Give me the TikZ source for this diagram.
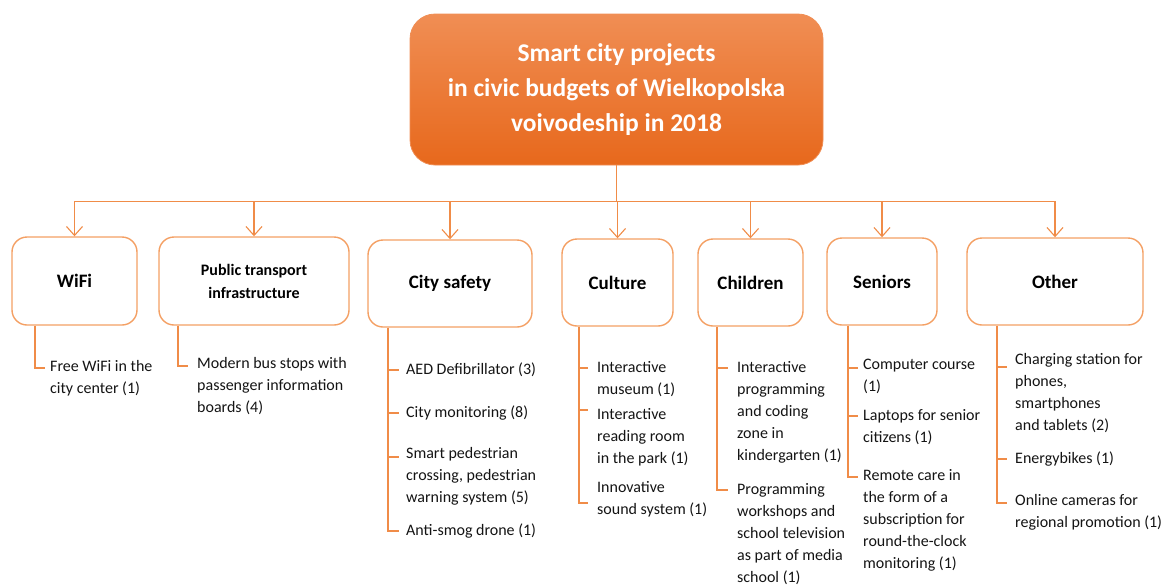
\documentclass[tikz,border=0pt]{standalone}
\usepackage{fontspec}
\setmainfont{Carlito}
\usetikzlibrary{arrows.meta,calc}
\definecolor{boxline}{RGB}{244,160,100}
\definecolor{conn}{RGB}{240,140,72}
\definecolor{toptop}{RGB}{240,142,84}
\definecolor{topbot}{RGB}{231,104,28}
\definecolor{itemtext}{RGB}{20,20,20}
\begin{document}
\begin{tikzpicture}[x=1pt,y=-1pt,
  topbox/.style={rounded corners=25pt, top color=toptop, bottom color=topbot, draw=toptop, line width=0.8pt,
    minimum width=413pt, minimum height=151pt, inner sep=0pt, align=center, text=white,
    font=\fontsize{25.5}{35}\selectfont\bfseries},
  catbox/.style={draw=boxline, line width=1.4pt, rounded corners=15pt, fill=white, inner sep=0pt,
    align=center, font=\fontsize{19}{23}\selectfont\bfseries},
  item/.style={anchor=north west, inner sep=0pt, align=left, font=\fontsize{16}{22}\selectfont, text=itemtext},
  link/.style={draw=conn, line width=1.2pt},
  arr/.style={link, -{Straight Barb[length=9pt,width=16pt,line width=1.1pt]}}
]
\useasboundingbox (0,0) rectangle (1169,584);

% title
\node[topbox] (top) at (616.5,89.5) {Smart city projects\\in civic budgets of Wielkopolska\\voivodeship in 2018};

% categories
\node[catbox, minimum width=125pt, minimum height=88pt] (wifi) at (74.5,281) {WiFi};
\node[catbox, minimum width=190pt, minimum height=88pt, font=\fontsize{16}{23}\selectfont\bfseries] (pt) at (254,281) {Public transport\\infrastructure};
\node[catbox, minimum width=164pt, minimum height=87pt] (cs) at (450,283.5) {City safety};
\node[catbox, minimum width=111pt, minimum height=87pt] (cu) at (617.5,282.5) {Culture};
\node[catbox, minimum width=105pt, minimum height=87pt] (ch) at (750.5,282.5) {Children};
\node[catbox, minimum width=110pt, minimum height=87pt] (se) at (882,281.5) {Seniors};
\node[catbox, minimum width=176pt, minimum height=87pt] (ot) at (1055,281.5) {Other};

% bus
\draw[link] (top.south) -- ++(0,36) coordinate (bus);
\foreach \n in {wifi,pt,cs,cu,ch,se,ot}
  \draw[arr] (bus) -| (\n.north);

% WiFi list
\coordinate (w1) at (35,368);
\draw[link] (wifi.south -| w1) -- (w1) -- ++(10,0);
\node[item] (wt1) at (50,360) {Free WiFi in the\\city center (1)};

% Public transport list
\coordinate (p1) at (178,366);
\draw[link] (pt.south -| p1) -- (p1) -- ++(10,0);
\node[item] (pt1) at (197,357) {Modern bus stops with\\passenger information\\boards (4)};

% City safety list
\coordinate (c1) at (388,370);
\coordinate (c2) at (388,413);
\coordinate (c3) at (388,457);
\coordinate (c4) at (388,531);
\draw[link] (cs.south -| c4) -- (c4) -- ++(11,0);
\foreach \c in {c1,c2,c3} \draw[link] (\c) -- ++(11,0);
\node[item] (cs1) at (406,363) {AED Defibrillator (3)};
\node[item] (cs2) at (406,406) {City monitoring (8)};
\node[item] (cs3) at (406,447) {Smart pedestrian\\crossing, pedestrian\\warning system (5)};
\node[item] (cs4) at (406,524) {Anti-smog drone (1)};

% Culture list
\coordinate (u1) at (579,368);
\coordinate (u2) at (579,410);
\coordinate (u3) at (579,503);
\draw[link] (cu.south -| u3) -- (u3) -- ++(9,0);
\foreach \c in {u1,u2} \draw[link] (\c) -- ++(9,0);
\node[item] (cu1) at (597,361) {Interactive\\museum (1)};
\node[item] (cu2) at (597,408) {Interactive\\reading room\\in the park (1)};
\node[item] (cu3) at (597,481) {Innovative\\sound system (1)};

% Children list
\coordinate (h1) at (717,368);
\coordinate (h2) at (717,490);
\draw[link] (ch.south -| h2) -- (h2) -- ++(11,0);
\draw[link] (h1) -- ++(11,0);
\node[item] (ch1) at (737,361) {Interactive\\programming\\and coding\\zone in\\kindergarten (1)};
\node[item] (ch2) at (737,483) {Programming\\workshops and\\school television\\as part of media\\school (1)};

% Seniors list
\coordinate (s1) at (848,368);
\coordinate (s2) at (848,416);
\coordinate (s3) at (848,477);
\draw[link] (se.south -| s3) -- (s3) -- ++(10,0);
\foreach \c in {s1,s2} \draw[link] (\c) -- ++(10,0);
\node[item] (se1) at (863,359) {Computer course\\(1)};
\node[item] (se2) at (863,409) {Laptops for senior\\citizens (1)};
\node[item] (se3) at (863,469) {Remote care in\\the form of a\\subscription for\\round-the-clock\\monitoring (1)};

% Other list
\coordinate (o1) at (997,367);
\coordinate (o2) at (997,459);
\coordinate (o3) at (997,503);
\draw[link] (ot.south -| o3) -- (o3) -- ++(10,0);
\foreach \c in {o1,o2} \draw[link] (\c) -- ++(10,0);
\node[item] (ot1) at (1015,353) {Charging station for\\phones,\\smartphones\\and tablets (2)};
\node[item] (ot2) at (1015,452) {Energybikes (1)};
\node[item] (ot3) at (1015,494) {Online cameras for\\regional promotion (1)};
\end{tikzpicture}
\end{document}
